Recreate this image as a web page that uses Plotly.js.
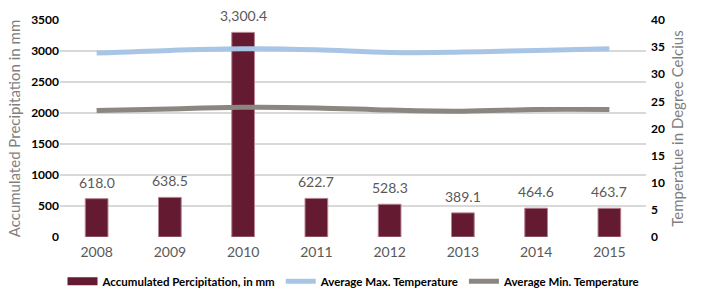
<!DOCTYPE html>
<html>
<head>
<meta charset="utf-8">
<script src="https://cdn.plot.ly/plotly-3.0.1.min.js"></script>
<style>body{margin:0;padding:0;background:#fff;}#chart{width:701px;height:290px;}</style>
</head>
<body>
<div id="chart"></div>
<script>
var years = ['2008','2009','2010','2011','2012','2013','2014','2015'];
var precipitation = [618.0, 638.5, 3300.4, 622.7, 528.3, 389.1, 464.6, 463.7];
var maxTemp = [33.9, 34.4, 34.7, 34.5, 34.0, 34.1, 34.4, 34.7];
var minTemp = [23.3, 23.6, 23.9, 23.8, 23.4, 23.2, 23.5, 23.5];

var barColor = '#641b32';
var fmt = function(v){return v.toLocaleString('en-US',{minimumFractionDigits:1,maximumFractionDigits:1});};

var traces = [
  {
    type: 'bar', x: years, y: precipitation, name: 'Accumulated Percipitation, in mm',
    marker: {color: barColor, line: {color: '#b58391', width: 1}},
    width: 0.31, showlegend: false, hoverinfo: 'none'
  },
  {
    type: 'scatter', mode: 'lines', x: [years[0]], y: [null],
    name: 'Accumulated Percipitation, in mm',
    line: {color: barColor, width: 8}, legendrank: 1
  },
  {
    type: 'scatter', mode: 'lines', x: years, y: maxTemp, yaxis: 'y2',
    name: 'Average Max. Temperature', legendrank: 2,
    line: {color: '#a9c5e6', width: 5, shape: 'spline'}
  },
  {
    type: 'scatter', mode: 'lines', x: years, y: minTemp, yaxis: 'y2',
    name: 'Average Min. Temperature', legendrank: 3,
    line: {color: '#8b8680', width: 5, shape: 'spline'}
  }
];

var annotations = years.map(function(yr, i){
  return {x: i, y: precipitation[i], xref: 'x', yref: 'y', text: fmt(precipitation[i]),
          showarrow: false, xanchor: 'center', yanchor: 'bottom', yshift: 6,
          font: {family: 'Lato, sans-serif', size: 14, color: '#595959'}};
});

var layout = {
  width: 701, height: 290,
  margin: {l: 60, r: 55, t: 20, b: 53, autoexpand: false},
  paper_bgcolor: '#fff', plot_bgcolor: '#fff',
  showlegend: true,
  annotations: annotations,
  legend: {orientation: 'h', xref: 'container', yref: 'container',
           x: 0.505, xanchor: 'center', y: 0.03, yanchor: 'middle',
           font: {family: 'Lato, sans-serif', size: 11.5, color: '#000', weight: 'bold'},
           itemwidth: 30, tracegroupgap: 0},
  xaxis: {
    type: 'category', categoryorder: 'array', categoryarray: years,
    range: [-0.5, years.length - 0.5],
    showgrid: false, zeroline: false, showline: false, ticks: '',
    ticklabelstandoff: 5,
    tickfont: {family: 'Lato, sans-serif', size: 14, color: '#595959'}
  },
  yaxis: {
    range: [0, 3500], dtick: 500, showgrid: true, gridcolor: '#d9d9d9', gridwidth: 1.5,
    zeroline: false, showline: false, ticks: '',
    tickfont: {family: 'Lato, sans-serif', size: 12, color: '#000', weight: 'bold'},
    title: {text: 'Accumulated Precipitation in mm', standoff: 6,
            font: {family: 'Lato, sans-serif', size: 15, color: '#7f7f7f'}}
  },
  yaxis2: {
    overlaying: 'y', side: 'right', range: [0, 40], dtick: 5, showgrid: false,
    zeroline: false, showline: false, ticks: '', ticklabelstandoff: 4,
    tickfont: {family: 'Lato, sans-serif', size: 12, color: '#000', weight: 'bold'},
    title: {text: 'Temperatue in Degree Celcius', standoff: 8,
            font: {family: 'Lato, sans-serif', size: 15, color: '#7f7f7f'}}
  },
  bargap: 0.69
};

Plotly.newPlot('chart', traces, layout, {displayModeBar: false, staticPlot: true});
</script>
</body>
</html>
